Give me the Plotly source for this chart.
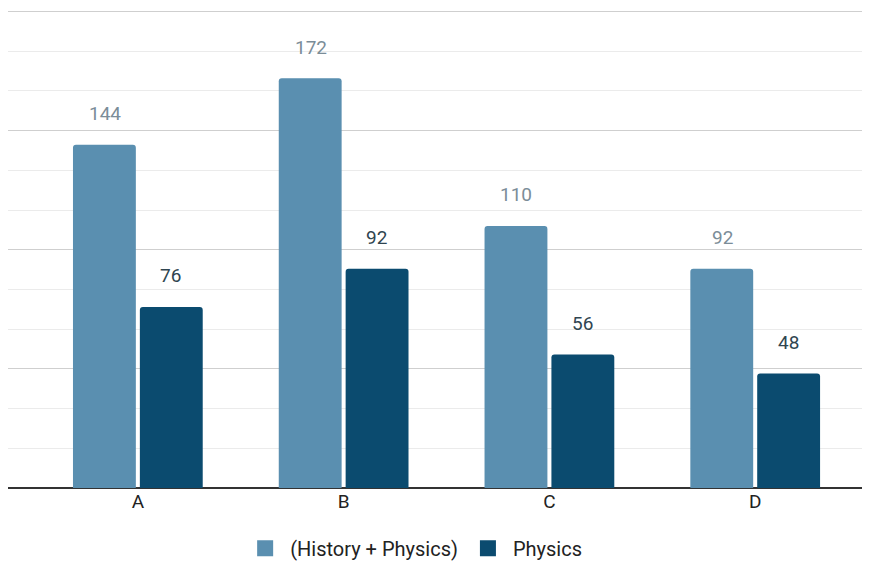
import plotly.graph_objects as go

categories = ["A", "B", "C", "D"]
series_names = ["(History + Physics)", "Physics"]
history_physics = [144, 172, 110, 92]
physics = [76, 92, 56, 48]

light = "#5a8fb0"
dark = "#0b4b6f"
font_family = "Roboto, Liberation Sans, Arial, sans-serif"

fig = go.Figure()
fig.add_trace(go.Bar(x=categories, y=history_physics, name=series_names[0],
                     marker=dict(color=light, line=dict(width=0)), showlegend=False))
fig.add_trace(go.Bar(x=categories, y=physics, name=series_names[1],
                     marker=dict(color=dark, line=dict(width=0)), showlegend=False))

# legend entries with larger square swatches
for name, col in zip(series_names, [light, dark]):
    fig.add_trace(go.Scatter(x=[None], y=[None], mode="markers", name=name,
                             marker=dict(symbol="square", size=20, color=col),
                             showlegend=True))

# value labels above each bar
for i, c in enumerate(categories):
    fig.add_annotation(x=c, y=history_physics[i], text=str(history_physics[i]),
                       xshift=-33, yshift=31, showarrow=False,
                       font=dict(size=19, color="#7b8d98", family=font_family))
    fig.add_annotation(x=c, y=physics[i], text=str(physics[i]),
                       xshift=33, yshift=31, showarrow=False,
                       font=dict(size=19, color="#2f4550", family=font_family))

fig.update_layout(
    width=892, height=570,
    margin=dict(l=0, r=38, t=2, b=90),
    paper_bgcolor="white", plot_bgcolor="white",
    barmode="group", bargap=0.35, bargroupgap=0.06,
    barcornerradius=3,
    font=dict(family=font_family, size=19, color="#222"),
    showlegend=True,
    legend=dict(orientation="h", x=0.475, xanchor="center", y=-0.085, yanchor="top",
                font=dict(size=20, color="#222"), itemwidth=40,
                traceorder="normal"),
    xaxis=dict(range=[-0.631, 3.519], showgrid=False, showline=False, zeroline=False,
               ticks="", tickfont=dict(size=19, color="#222")),
    yaxis=dict(range=[0, 200.6], showticklabels=False, ticks="",
               tickvals=[0, 50, 100, 150, 200],
               showgrid=True, gridcolor="#cfcfcf", gridwidth=1,
               zeroline=True, zerolinecolor="#333333", zerolinewidth=2,
               showline=False,
               minor=dict(tickvals=[50 / 3 * k for k in range(1, 12) if k % 3 != 0],
                          showgrid=True, gridcolor="#ebebeb", gridwidth=1)),
)

fig.write_html("out.html")
